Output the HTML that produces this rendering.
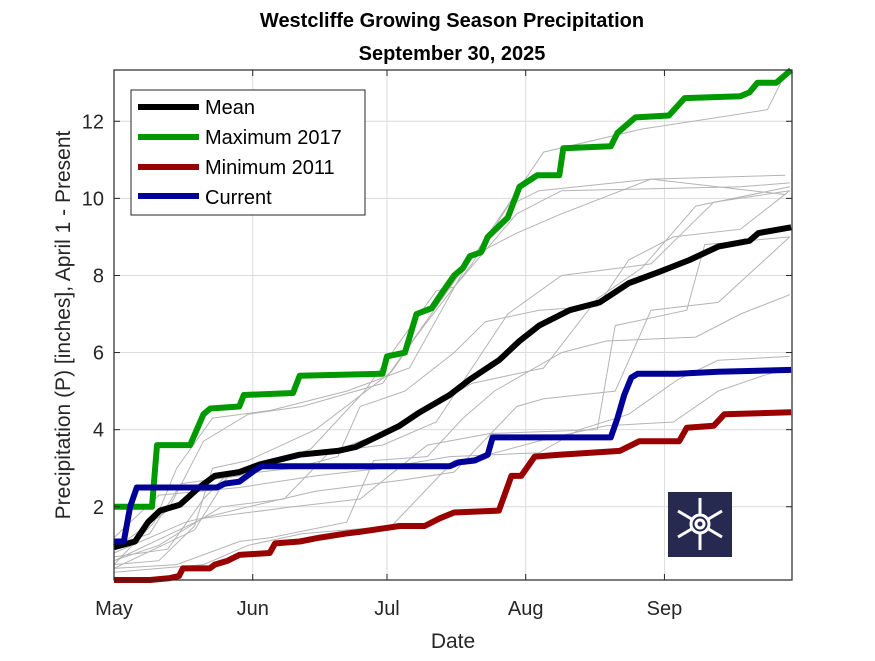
<!DOCTYPE html>
<html><head><meta charset="utf-8"><style>
body{margin:0;background:#fff;font-family:"Liberation Sans",Arial,sans-serif}
svg text{font-family:"Liberation Sans",Arial,sans-serif}
</style></head><body>
<svg id="c" width="875" height="656" xmlns="http://www.w3.org/2000/svg">
<rect width="875" height="656" fill="#fff"/>
<text x="452" y="27" font-size="20" font-weight="bold" text-anchor="middle">Westcliffe Growing Season Precipitation</text>
<text x="452" y="60" font-size="20" font-weight="bold" text-anchor="middle">September 30, 2025</text>
<g id="grid"></g><g id="gray"></g><g id="main"></g><g id="axes"></g>
<text x="453" y="648" font-size="21" fill="#262626" text-anchor="middle">Date</text>
<text transform="translate(70,325) rotate(-90)" font-size="21" fill="#262626" text-anchor="middle">Precipitation (P) [inches], April 1 - Present</text>
<g>
<rect x="131" y="90" width="234" height="125" fill="#fff" stroke="#262626" stroke-width="1"/>
<line x1="138" y1="107" x2="199" y2="107" stroke="#000" stroke-width="6"/><text x="205" y="114" font-size="20">Mean</text>
<line x1="138" y1="137" x2="199" y2="137" stroke="#009900" stroke-width="6"/><text x="205" y="144" font-size="20">Maximum 2017</text>
<line x1="138" y1="167" x2="199" y2="167" stroke="#990000" stroke-width="6"/><text x="205" y="174" font-size="20">Minimum 2011</text>
<line x1="138" y1="196" x2="199" y2="196" stroke="#000099" stroke-width="6"/><text x="205" y="204" font-size="20">Current</text>
</g>
<g transform="translate(700,524)">
<rect x="-32" y="-32" width="64" height="65" fill="#262a50"/>
<g stroke="#fff" stroke-width="3" fill="none">
<line x1="0" y1="-26" x2="0" y2="26"/><line x1="-22" y1="-13" x2="22" y2="13"/><line x1="-22" y1="13" x2="22" y2="-13"/>
<circle r="9" fill="#262a50"/><circle r="4"/>
</g>
</g>
</svg>
<script>
const monthLabels=["May","Jun","Jul","Aug","Sep"];
const monthDays=[0,31,61,92,123];
const yTicks=[2,4,6,8,10,12];
const meanSeries=[[0,0.95],[4.7,1.1],[7.6,1.6],[10.3,1.9],[14.7,2.05],[19,2.5],[22.5,2.8],[28,2.9],[32.6,3.1],[41.5,3.35],[50,3.45],[54,3.55],[59.4,3.85],[63.8,4.1],[68.3,4.45],[75,4.9],[79.5,5.3],[86,5.8],[90.6,6.3],[95,6.7],[101.8,7.1],[108.5,7.3],[115,7.8],[122,8.1],[128.6,8.4],[135,8.75],[142,8.9],[144,9.1],[151.3,9.25]];
const maxSeries=[[0,2.0],[8.5,2.0],[9.6,3.6],[17,3.6],[20,4.4],[21.5,4.55],[28,4.6],[29,4.9],[40,4.95],[41.5,5.4],[60,5.45],[61,5.9],[65,6.0],[67.6,7.0],[71,7.15],[73,7.5],[76,8.0],[78,8.2],[79.5,8.5],[82,8.6],[83.5,9.0],[88,9.5],[90.6,10.3],[94.6,10.6],[99.5,10.6],[100.4,11.3],[111,11.35],[112.5,11.7],[116.5,12.1],[124,12.15],[127.5,12.6],[140,12.65],[142,12.75],[143.8,13.0],[148,13.0],[151.3,13.33]];
const minSeries=[[0,0.1],[8,0.1],[12.5,0.15],[14.5,0.2],[15.4,0.4],[21.4,0.4],[22.5,0.5],[25.4,0.6],[28,0.75],[34.8,0.8],[36,1.05],[41.5,1.1],[46,1.2],[51.6,1.3],[55,1.35],[63.8,1.5],[69.4,1.5],[72.8,1.7],[76,1.85],[86,1.9],[88.8,2.8],[91,2.8],[94,3.3],[99.5,3.35],[113,3.45],[117.4,3.7],[126.3,3.7],[128,4.05],[134,4.1],[136.4,4.4],[151.3,4.45]];
const currentSeries=[[0,1.1],[2.2,1.1],[3.6,2.0],[5.1,2.5],[23,2.5],[24.8,2.6],[28,2.65],[31.5,2.95],[33,3.05],[75,3.05],[77,3.15],[80.6,3.2],[83.5,3.35],[84.6,3.8],[111,3.8],[112.5,4.3],[114,4.9],[115.6,5.35],[117,5.45],[126,5.45],[135,5.5],[151.3,5.55]];
const grayYears=[
[[0,0.5],[10,0.6],[18,1.5],[22,3.0],[30,3.2],[45,4.0],[62,5.5],[68,6.5],[80,8.3],[88,9.8],[95,10.2],[120,10.5],[150,10.6]],
[[0,0.7],[12,0.9],[20,2.2],[25,2.8],[40,3.0],[50,3.3],[55,4.6],[65,5.0],[76,6.0],[83,6.8],[95,7.1],[108,7.2],[115,8.4],[125,9.0],[140,9.2],[151,10.2]],
[[0,0.4],[14,0.5],[28,1.1],[35,1.2],[52,1.6],[58,3.2],[70,3.3],[78,4.3],[85,5.0],[100,6.0],[110,6.3],[130,6.4],[140,7.0],[151,7.5]],
[[0,1.0],[8,1.3],[15,2.6],[28,2.8],[44,3.5],[56,5.0],[72,7.6],[76,7.7],[90,9.6],[100,10.2],[140,10.3],[151,10.4]],
[[0,0.3],[20,0.5],[30,1.0],[42,1.3],[62,1.5],[76,3.2],[82,3.3],[98,3.8],[110,4.1],[125,4.2],[135,5.0],[145,5.4],[151,5.6]],
[[0,0.6],[10,1.0],[24,2.0],[38,2.2],[48,3.4],[62,4.0],[80,5.2],[96,5.6],[108,7.4],[118,8.2],[130,9.8],[151,10.3]],
[[0,0.8],[16,1.6],[30,2.0],[45,2.4],[65,2.7],[76,2.9],[90,4.6],[96,4.8],[112,5.0],[120,7.1],[135,7.3],[151,9.0]],
[[0,0.9],[12,1.9],[20,3.7],[30,4.4],[42,4.6],[60,5.2],[80,8.5],[90,9.1],[100,9.6],[120,10.5],[150,10.1]],
[[0,1.2],[10,2.3],[28,2.5],[45,2.8],[60,3.0],[75,3.3],[95,3.4],[104,4.0],[115,4.4],[126,5.3],[135,5.8],[151,5.9]],
[[0,0.5],[9,1.6],[14,3.0],[22,4.3],[35,4.5],[52,5.0],[66,5.6],[78,8.1],[96,11.2],[118,11.8],[135,12.1],[146,12.3],[149,13.0]],
[[0,0.6],[20,1.7],[40,2.0],[55,2.2],[70,3.6],[84,3.9],[96,3.95],[108,4.0],[112,6.7],[128,7.1],[132,8.8],[151,9.0]],
[[0,0.4],[18,1.4],[26,2.9],[40,3.3],[60,3.6],[72,4.2],[88,7.0],[100,8.0],[120,8.3],[134,9.9],[151,10.2]]
];
const X0=114,X1=792,Y0=580,Y1=70,DMAX=151.5,VMIN=0.1,VMAX=13.33;
const sx=d=>X0+(d/DMAX)*(X1-X0);
const sy=v=>Y0-(v-VMIN)/(VMAX-VMIN)*(Y0-Y1);
const NS="http://www.w3.org/2000/svg";
function mk(tag,attrs,parent){const e=document.createElementNS(NS,tag);for(const k in attrs)e.setAttribute(k,attrs[k]);parent.appendChild(e);return e;}
const grid=document.getElementById('grid'),axes=document.getElementById('axes'),gray=document.getElementById('gray'),main=document.getElementById('main');
monthDays.forEach((d,i)=>{
 const g=mk('line',{x1:sx(d),x2:sx(d),y1:Y1,y2:Y0,stroke:'#dcdcdc','stroke-width':1},grid);
 
 
 mk('line',{x1:sx(d),x2:sx(d),y1:Y0,y2:Y0-6,stroke:'#262626'},axes);
 mk('line',{x1:sx(d),x2:sx(d),y1:Y1,y2:Y1+6,stroke:'#262626'},axes);
 const t=mk('text',{x:sx(d)+(i==0?0:0),y:Y0+35,'font-size':20,fill:'#262626','text-anchor':'middle'},axes);
 t.textContent=monthLabels[i];
 
 
});
yTicks.forEach(v=>{
 const g=mk('line',{x1:X0,x2:X1,y1:sy(v),y2:sy(v),stroke:'#dcdcdc','stroke-width':1},grid);
 
 
 mk('line',{x1:X0,x2:X0+6,y1:sy(v),y2:sy(v),stroke:'#262626'},axes);
 mk('line',{x1:X1,x2:X1-6,y1:sy(v),y2:sy(v),stroke:'#262626'},axes);
 const t=mk('text',{x:X0-10,y:sy(v)+7,'font-size':20,fill:'#262626','text-anchor':'end'},axes);
 t.textContent=v;
 
 
});
const box=mk('rect',{x:X0,y:Y1,width:X1-X0,height:Y0-Y1,fill:'none',stroke:'#262626','stroke-width':1.2},axes);


const pts=s=>s.map(p=>sx(p[0]).toFixed(1)+','+sy(p[1]).toFixed(1)).join(' ');
grayYears.forEach(s=>{
 const l=mk('polyline',{points:pts(s),fill:'none',stroke:'#b4b4b4','stroke-width':1},gray);
 
 
});
[[meanSeries,'#000','mean-line'],[maxSeries,'#009900','maximum-2017-line'],[minSeries,'#990000','minimum-2011-line'],[currentSeries,'#000099','current-line']].forEach(([s,c,n])=>{
 const l=mk('polyline',{points:pts(s),fill:'none',stroke:c,'stroke-width':6,'stroke-linejoin':'round'},main);
 
 
});
</script>
</body></html>
